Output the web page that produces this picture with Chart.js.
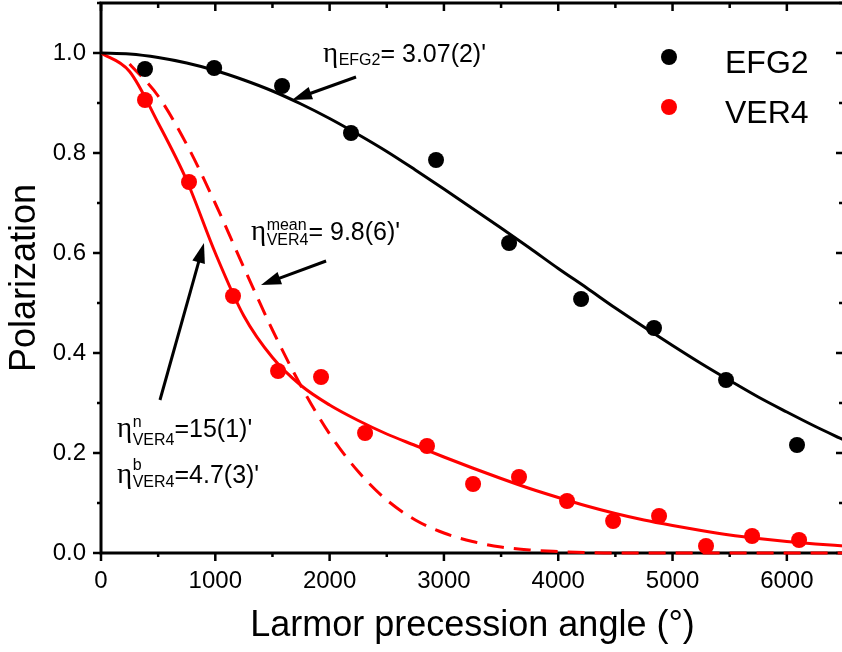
<!DOCTYPE html>
<html><head><meta charset="utf-8">
<script src="https://cdn.jsdelivr.net/npm/chart.js@4.4.0/dist/chart.umd.min.js"></script>
<style>
html,body{margin:0;padding:0;overflow:hidden;background:#fff;width:842px;height:652px}
#wrap{position:absolute;left:0;top:0;width:850px;height:652px}
</style></head>
<body><div id="wrap"><canvas id="c" width="850" height="652"></canvas></div>
<script>
// ---- data ----
const efgAngles = [385, 990, 1584, 2187, 2931, 3570, 4200, 4838, 5468, 6089];
const efgPol    = [0.968, 0.970, 0.934, 0.840, 0.786, 0.620, 0.508, 0.450, 0.346, 0.216];
const verAngles = [385, 770, 1155, 1549, 1925, 2310, 2852, 3255, 3657, 4077, 4480, 4882, 5293, 5696, 6107];
const verPol    = [0.906, 0.742, 0.514, 0.364, 0.352, 0.240, 0.214, 0.138, 0.152, 0.104, 0.064, 0.074, 0.014, 0.034, 0.026];

const fitAngles = [0,250,500,750,1000,1250,1500,1750,2000,2250,2500,2750,3000,3250,3500,3750,4000,4250,4500,4750,5000,5250,5500,5750,6000,6250,6500];
const efgFit    = [1.000,0.998,0.991,0.980,0.965,0.946,0.924,0.898,0.869,0.837,0.803,0.766,0.728,0.689,0.650,0.610,0.569,0.530,0.490,0.452,0.415,0.379,0.345,0.312,0.282,0.253,0.226];
const verFit    = [1.000,0.963,0.860,0.745,0.600,0.474,0.391,0.335,0.296,0.265,0.238,0.215,0.192,0.170,0.149,0.129,0.111,0.094,0.079,0.066,0.055,0.045,0.036,0.029,0.023,0.018,0.014];
const meanAngles = [250,500,750,1000,1250,1500,1750,2000,2250,2500,2750,3000,3250,3500,3750,4000,4250,4500,4750,5000,5250,5500,5750,6000,6250,6500];
const meanFit    = [0.978,0.914,0.817,0.699,0.571,0.446,0.334,0.238,0.163,0.106,0.066,0.040,0.023,0.012,0.006,0.003,0.001,0,0,0,0,0,0,0,0,0];

const xTickValues = [0,1000,2000,3000,4000,5000,6000];
const yTickValues = [0.0,0.2,0.4,0.6,0.8,1.0];
const seriesNames = ['EFG2','VER4'];
const xTitle = 'Larmor precession angle (°)';
const yTitle = 'Polarization';

const zip = (a,b) => a.map((v,i)=>({x:v,y:b[i]}));

// annotations: anchor in data units (left/baseline of η)
const notes = [
  {x:1942, y:0.982, sup:'', sub:'EFG2', main:'= 3.07(2)\'', rise:0, drop:3},
  {x:1312, y:0.626, sup:'mean', sub:'VER4', main:'= 9.8(6)\'', rise:10, drop:5},
  {x:140,  y:0.232, sup:'n', sub:'VER4', main:'=15(1)\'', rise:10, drop:8},
  {x:140,  y:0.140, sup:'b', sub:'VER4', main:'=4.7(3)\'', rise:13, drop:4}
];
const arrows = [
  {x1:2231, y1:0.952, x2:1671, y2:0.906},
  {x1:1969, y1:0.584, x2:1400, y2:0.536},
  {x1:516,  y1:0.306, x2:901,  y2:0.620}
];

const SANS = '"Liberation Sans", Arial, sans-serif';
const SERIF = '"Liberation Serif", "Times New Roman", serif';

const framePlugin = {
  id:'frame',
  beforeDatasetsDraw(chart){
    const {ctx, chartArea:a, scales:{x,y}} = chart;
    ctx.save();
    ctx.strokeStyle='#000'; ctx.lineWidth=3; ctx.lineCap='butt';
    ctx.beginPath();
    ctx.moveTo(a.left, a.top); ctx.lineTo(a.right, a.top);
    ctx.moveTo(a.right, a.top); ctx.lineTo(a.right, a.bottom);
    ctx.moveTo(a.left, a.bottom); ctx.lineTo(a.right, a.bottom);
    ctx.moveTo(a.left, a.top-1.5); ctx.lineTo(a.left, a.bottom+1.5);
    ctx.stroke();
    ctx.lineWidth=2.5;
    ctx.beginPath();
    for(let v=0; v<=6500; v+=500){
      const px = x.getPixelForValue(v);
      const major = v%1000===0;
      ctx.moveTo(px, a.bottom); ctx.lineTo(px, a.bottom+(major?8:4));
      ctx.moveTo(px, a.top); ctx.lineTo(px, a.top+(major?8:5));
    }
    for(let i=0;i<=11;i++){
      const py = y.getPixelForValue(i/10);
      const major = i%2===0;
      ctx.moveTo(a.left, py); ctx.lineTo(a.left-(major?8:4), py);
      ctx.moveTo(a.right, py); ctx.lineTo(a.right-(major?8:5), py);
    }
    ctx.stroke();
    ctx.restore();
  },
  afterDatasetsDraw(chart){
    const {ctx, chartArea:a, scales:{x,y}} = chart;
    ctx.save();
    ctx.strokeStyle='#000'; ctx.fillStyle='#000'; ctx.lineWidth=3;
    arrows.forEach(ar=>{
      const x1=x.getPixelForValue(ar.x1), y1=y.getPixelForValue(ar.y1);
      const x2=x.getPixelForValue(ar.x2), y2=y.getPixelForValue(ar.y2);
      const ang=Math.atan2(y2-y1,x2-x1), hl=20, hw=6.5;
      const bx=x2-hl*Math.cos(ang), by=y2-hl*Math.sin(ang);
      ctx.beginPath(); ctx.moveTo(x1,y1); ctx.lineTo(bx+3*Math.cos(ang),by+3*Math.sin(ang)); ctx.stroke();
      ctx.beginPath(); ctx.moveTo(x2,y2);
      ctx.lineTo(bx+hw*Math.sin(ang), by-hw*Math.cos(ang));
      ctx.lineTo(bx-hw*Math.sin(ang), by+hw*Math.cos(ang));
      ctx.closePath(); ctx.fill();
    });
    ctx.textBaseline='alphabetic'; ctx.textAlign='left';
    notes.forEach(n=>{
      let px=x.getPixelForValue(n.x), py=y.getPixelForValue(n.y);
      ctx.font='29px '+SERIF; ctx.fillText('η', px, py);
      px += ctx.measureText('η').width + 0.5;
      ctx.font='16px '+SANS;
      let w=0;
      if(n.sup){ ctx.fillText(n.sup, px, py-n.rise); w=Math.max(w, ctx.measureText(n.sup).width); }
      ctx.fillText(n.sub, px, py+n.drop); w=Math.max(w, ctx.measureText(n.sub).width);
      px += w;
      ctx.font='25px '+SANS; ctx.fillText(n.main, px, py);
    });
    const cols=['#000','#ff0000'];
    seriesNames.forEach((s,i)=>{
      const my = a.top + 54 + i*50;
      ctx.fillStyle=cols[i];
      ctx.beginPath(); ctx.arc(669, my, 8, 0, Math.PI*2); ctx.fill();
      ctx.fillStyle='#000'; ctx.font='32px '+SANS; ctx.textBaseline='alphabetic';
      ctx.fillText(s, 725, my+16);
    });
    ctx.restore();
  }
};

new Chart(document.getElementById('c'), {
  type:'scatter',
  data:{datasets:[
    {label:seriesNames[0], data:zip(efgAngles,efgPol), backgroundColor:'#000', borderColor:'#000', pointRadius:8, pointBorderWidth:0, order:0},
    {label:seriesNames[1], data:zip(verAngles,verPol), backgroundColor:'#ff0000', borderColor:'#ff0000', pointRadius:8, pointBorderWidth:0, order:0},
    {type:'line', label:'EFG2 fit', data:zip(fitAngles,efgFit), borderColor:'#000', borderWidth:3, pointRadius:0, fill:false, cubicInterpolationMode:'monotone', order:1},
    {type:'line', label:'VER4 fit', data:zip(fitAngles,verFit), borderColor:'#ff0000', borderWidth:3, pointRadius:0, fill:false, cubicInterpolationMode:'monotone', order:1},
    {type:'line', label:'VER4 mean', data:zip(meanAngles,meanFit), borderColor:'#ff0000', borderWidth:3, borderDash:[17,10], pointRadius:0, fill:false, cubicInterpolationMode:'monotone', clip:4, order:1}
  ]},
  options:{
    responsive:false, animation:false, devicePixelRatio:1,
    layout:{autoPadding:false, padding:{left:0,right:6,top:3,bottom:0}},
    plugins:{legend:{display:false}, tooltip:{enabled:false}},
    scales:{
      x:{type:'linear', min:0, max:6500,
        afterFit(s){ s.height=99; s.paddingLeft=0; s.paddingRight=0; },
        afterBuildTicks(s){ s.ticks = xTickValues.map(v=>({value:v})); },
        ticks:{color:'#000', font:{family:SANS, size:24}, padding:14, maxRotation:0, autoSkip:false, callback:v=>String(v)},
        grid:{display:false, drawTicks:false}, border:{display:false},
        title:{display:true, text:xTitle, color:'#000', font:{family:SANS, size:36}, padding:{top:0,bottom:4}}
      },
      y:{type:'linear', min:0, max:1.1,
        afterFit(s){ s.width=101; s.paddingTop=0; s.paddingBottom=0; },
        afterBuildTicks(s){ s.ticks = yTickValues.map(v=>({value:v})); },
        ticks:{color:'#000', font:{family:SANS, size:24}, padding:0, callback:v=>v.toFixed(1)},
        grid:{display:true, drawOnChartArea:false, drawTicks:true, tickLength:15, tickColor:'rgba(0,0,0,0)', color:'rgba(0,0,0,0)'}, border:{display:false},
        title:{display:true, text:yTitle, color:'#000', font:{family:SANS, size:36}, padding:{top:3,bottom:0}}
      }
    }
  },
  plugins:[framePlugin]
});
</script></body></html>
